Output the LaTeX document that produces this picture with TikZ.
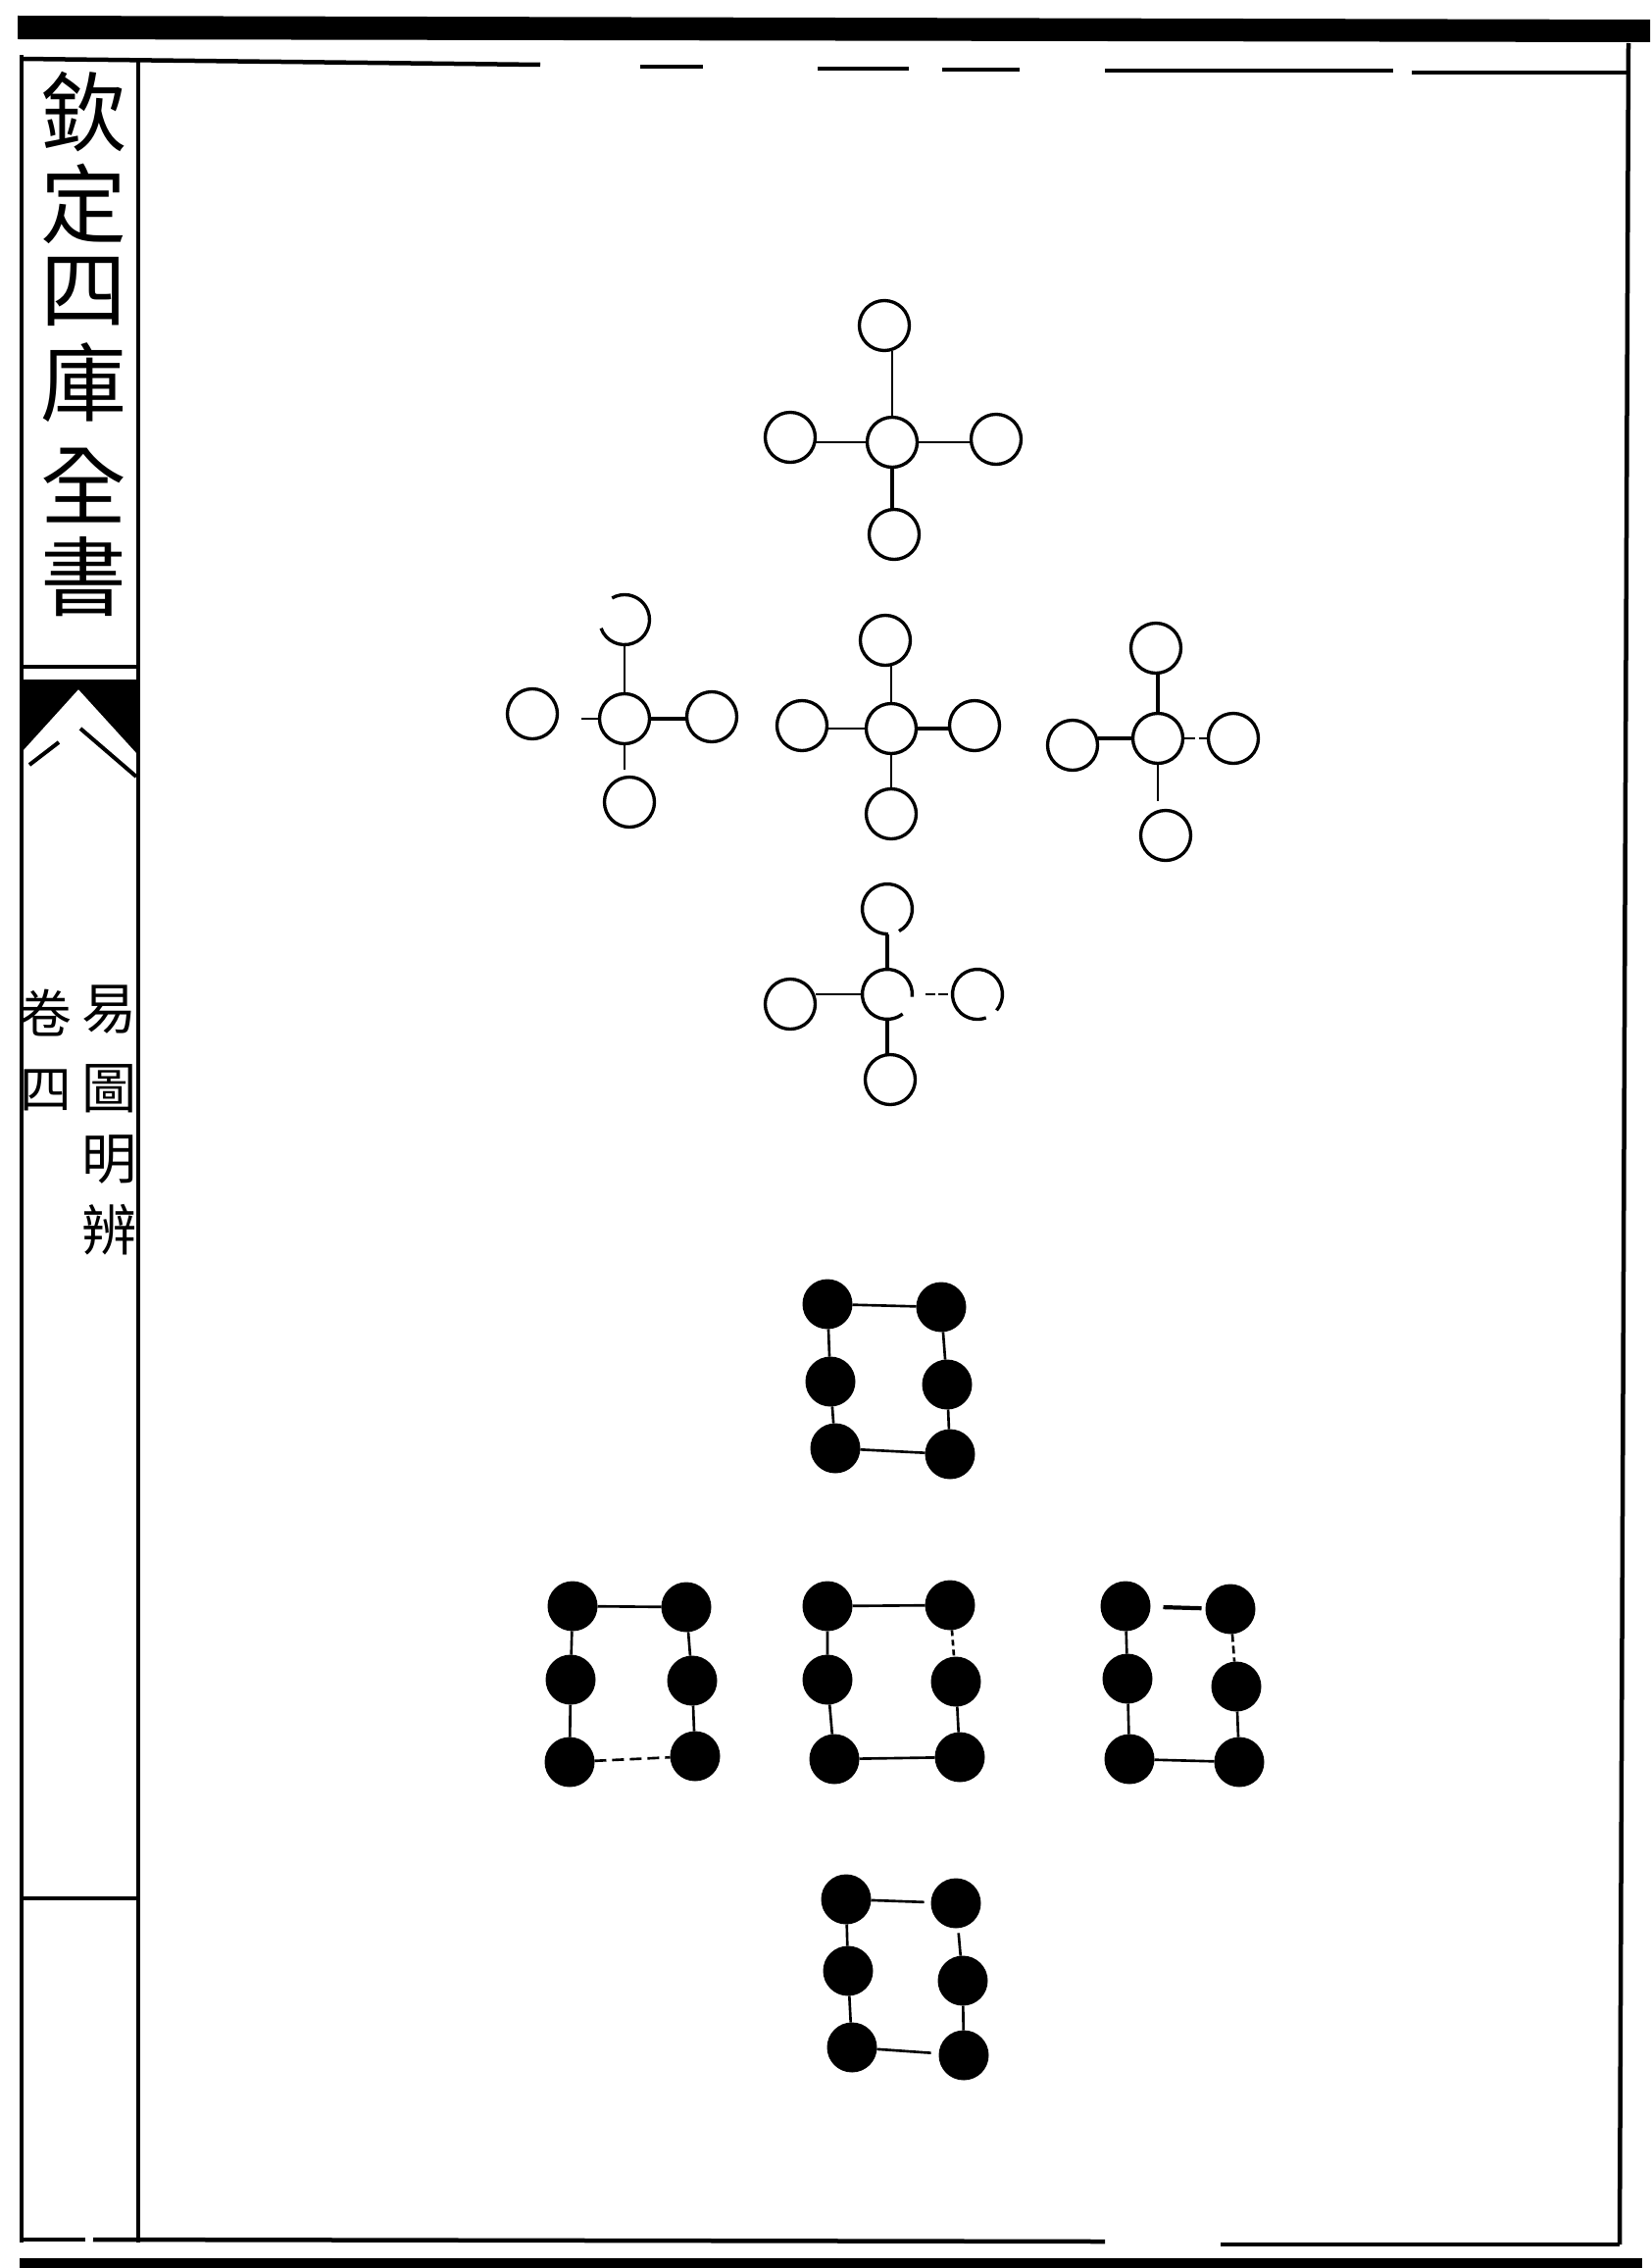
\documentclass[tikz,border=0pt]{standalone}
\usepackage{fontspec}
\newfontfamily\cjk{Noto Sans CJK TC}
\begin{document}
\begin{tikzpicture}[x=0.1mm, y=-0.1mm,
  hol/.style={circle, draw, line width=0.95pt, minimum size=5.1mm, inner sep=0pt, outer sep=0pt},
  holo/.style={circle, minimum size=5.1mm, inner sep=0pt, outer sep=0pt},
  rim/.style={line width=0.95pt},
  dot/.style={circle, fill, minimum size=5.1mm, inner sep=0pt, outer sep=0pt},
  conn/.style={line width=0.75pt},
  dbl/.style={line width=1.2pt},
  frame/.style={line width=0.45mm},
  titlech/.style={font=\cjk\fontsize{25pt}{25pt}\selectfont, inner sep=0pt},
  subch/.style={font=\cjk\fontsize{16pt}{16pt}\selectfont, inner sep=0pt},
  volch/.style={font=\cjk\fontsize{15pt}{15pt}\selectfont, inner sep=0pt}
]
\fill[white] (0,0) rectangle (1683,2313);
\useasboundingbox (0,0) rectangle (1683,2313);

% ---------- page frame ----------
\fill (18,16) -- (1683,20) -- (1683,43) -- (18,40) -- cycle;
\fill (20,2303) rectangle (1675,2313);
\draw[frame] (22,56) -- (22,2287);
\draw[frame] (141,62) -- (141,2287);
\draw[frame] (1661,44) -- (1652,2289);
\draw[frame] (22,60) -- (551,66);
\draw[frame] (653,68) -- (717,68);
\draw[frame] (834,70) -- (927,70);
\draw[frame] (961,71) -- (1040,71);
\draw[frame] (1127,72) -- (1421,72);
\draw[frame] (1440,74) -- (1661,74);
\draw[frame] (22,2284) -- (87,2284);
\draw[frame] (95,2284) -- (1127,2286);
\draw[frame] (1245,2289) -- (1652,2289);

% ---------- spine ----------
\node[titlech] (t1) at (85,114) {欽};
\node[titlech] (t2) at (85,208) {定};
\node[titlech] (t3) at (85,297) {四};
\node[titlech] (t4) at (85,390) {庫};
\node[titlech] (t5) at (85,495) {全};
\node[titlech] (t6) at (85,588) {書};
\draw[frame] (22,680) -- (141,680);
\fill (22,693) -- (141,693) -- (141,770) -- (80,703) -- (22,767) -- cycle;
\draw[line width=0.4mm] (30,780) -- (60,757);
\draw[line width=0.4mm] (82,743) -- (139,792);
\node[subch] (s1) at (112,1030) {易};
\node[subch] (s2) at (112,1110) {圖};
\node[subch] (s3) at (112,1183) {明};
\node[subch] (s4) at (112,1254) {辨};
\node[volch] (v1) at (47,1033) {卷};
\node[volch] (v2) at (47,1112) {四};
\draw[frame] (22,1936) -- (141,1936);

% ---------- hollow crosses ----------
% A (top)
\node[hol] (Ac) at (910,451) {};
\node[hol] (At) at (902,332) {};
\node[hol] (Al) at (806,446) {};
\node[hol] (Ar) at (1016,448) {};
\node[hol] (Ab) at (912,545) {};
\draw[conn] (Ac.north) -- (Ac.north |- At.south);
\draw[conn] (Ac.west) -- (Ac.west -| Al.east);
\draw[conn] (Ac.east) -- (Ac.east -| Ar.west);
\draw[dbl] (Ac.south) -- (Ac.south |- Ab.north);
% B (left)
\node[hol] (Bc) at (637,733) {};
\node[holo] (Bt) at (637,632) {};
\draw[rim] (Bt.200) arc[start angle=200, end angle=480, radius=2.55mm];
\node[hol] (Bl) at (543,728) {};
\node[hol] (Br) at (726,731) {};
\node[hol] (Bb) at (642,818) {};
\draw[conn] (Bc.north) -- (Bc.north |- Bt.south);
\draw[conn, shorten >=2.4mm] (Bc.west) -- (Bc.west -| Bl.east);
\draw[dbl] (Bc.east) -- (Bc.east -| Br.west);
\draw[conn, shorten >=0.8mm] (Bc.south) -- (Bc.south |- Bb.north);
% C (middle)
\node[hol] (Cc) at (909,743) {};
\node[hol] (Ct) at (903,653) {};
\node[hol] (Cl) at (818,740) {};
\node[hol] (Cr) at (994,740) {};
\node[hol] (Cb) at (909,830) {};
\draw[conn] (Cc.north) -- (Cc.north |- Ct.south);
\draw[conn] (Cc.west) -- (Cc.west -| Cl.east);
\draw[dbl] (Cc.east) -- (Cc.east -| Cr.west);
\draw[conn] (Cc.south) -- (Cc.south |- Cb.north);
% D (right)
\node[hol] (Dc) at (1181,753) {};
\node[hol] (Dt) at (1179,661) {};
\node[hol] (Dl) at (1094,760) {};
\node[hol] (Dr) at (1258,753) {};
\node[hol] (Db) at (1189,852) {};
\draw[dbl] (Dc.north) -- (Dc.north |- Dt.south);
\draw[dbl] (Dc.west) -- (Dc.west -| Dl.east);
\draw[conn, dash pattern=on 1.2mm off 0.4mm] (Dc.east) -- (Dc.east -| Dr.west);
\draw[conn, shorten >=1mm] (Dc.south) -- (Dc.south |- Db.north);
% E (bottom)
\node[holo] (Ec) at (905,1014) {};
\draw[rim] (Ec.354) arc[start angle=354, end angle=668, radius=2.55mm];
\node[holo] (Et) at (905,927) {};
\draw[rim] (Et.298) arc[start angle=298, end angle=632, radius=2.55mm];
\node[hol] (El) at (806,1024) {};
\node[holo] (Er) at (997,1014) {};
\draw[rim] (Er.320) arc[start angle=320, end angle=650, radius=2.55mm];
\node[hol] (Eb) at (908,1101) {};
\draw[dbl] (Ec.north) -- (Ec.north |- Et.south);
\draw[conn] (Ec.west) -- (Ec.west -| El.east);
\draw[conn, shorten <=1.3mm, dash pattern=on 1mm off 0.35mm] (Ec.east) -- (Ec.east -| Er.west);
\draw[dbl] (Ec.south) -- (Ec.south |- Eb.north);

% ---------- filled rectangles ----------
% R1 (top)
\node[dot] (R1tl) at (844,1330) {};
\node[dot] (R1tr) at (960,1333) {};
\node[dot] (R1ml) at (847,1409) {};
\node[dot] (R1mr) at (966,1412) {};
\node[dot] (R1bl) at (852,1477) {};
\node[dot] (R1br) at (969,1483) {};
\draw[conn] (R1tl) -- (R1tr);
\draw[conn] (R1tl) -- (R1ml) -- (R1bl);
\draw[conn] (R1tr) -- (R1mr) -- (R1br);
\draw[conn] (R1bl) -- (R1br);
% R2 (left)
\node[dot] (R2tl) at (584,1638) {};
\node[dot] (R2tr) at (700,1639) {};
\node[dot] (R2ml) at (582,1713) {};
\node[dot] (R2mr) at (706,1714) {};
\node[dot] (R2bl) at (581,1797) {};
\node[dot] (R2br) at (709,1791) {};
\draw[conn] (R2tl) -- (R2tr);
\draw[conn] (R2tl) -- (R2ml) -- (R2bl);
\draw[conn] (R2tr) -- (R2mr) -- (R2br);
\draw[conn, dash pattern=on 1.2mm off 0.6mm] (R2bl) -- (R2br);
% R3 (middle)
\node[dot] (R3tl) at (844,1638) {};
\node[dot] (R3tr) at (969,1637) {};
\node[dot] (R3ml) at (844,1713) {};
\node[dot] (R3mr) at (975,1715) {};
\node[dot] (R3bl) at (851,1794) {};
\node[dot] (R3br) at (979,1792) {};
\draw[conn] (R3tl) -- (R3tr);
\draw[conn] (R3tl) -- (R3ml) -- (R3bl);
\draw[conn, dash pattern=on 0.6mm off 0.4mm] (R3tr) -- (R3mr);
\draw[conn] (R3mr) -- (R3br);
\draw[conn] (R3bl) -- (R3br);
% R4 (right)
\node[dot] (R4tl) at (1148,1638) {};
\node[dot] (R4tr) at (1255,1641) {};
\node[dot] (R4ml) at (1150,1712) {};
\node[dot] (R4mr) at (1261,1720) {};
\node[dot] (R4bl) at (1152,1794) {};
\node[dot] (R4br) at (1264,1797) {};
\draw[dbl, shorten <=1.3mm, shorten >=0.4mm] (R4tl) -- (R4tr);
\draw[conn] (R4tl) -- (R4ml) -- (R4bl);
\draw[conn, dash pattern=on 0.8mm off 0.4mm] (R4tr) -- (R4mr);
\draw[conn] (R4mr) -- (R4br);
\draw[conn] (R4bl) -- (R4br);
% R5 (bottom)
\node[dot] (R5tl) at (863,1937) {};
\node[dot] (R5tr) at (975,1941) {};
\node[dot] (R5ml) at (865,2010) {};
\node[dot] (R5mr) at (982,2020) {};
\node[dot] (R5bl) at (869,2088) {};
\node[dot] (R5br) at (983,2096) {};
\draw[conn, shorten >=0.7mm] (R5tl) -- (R5tr);
\draw[conn] (R5tl) -- (R5ml) -- (R5bl);
\draw[conn, shorten <=0.5mm] (R5tr) -- (R5mr);
\draw[conn] (R5mr) -- (R5br);
\draw[conn, shorten >=0.8mm] (R5bl) -- (R5br);
\end{tikzpicture}
\end{document}
